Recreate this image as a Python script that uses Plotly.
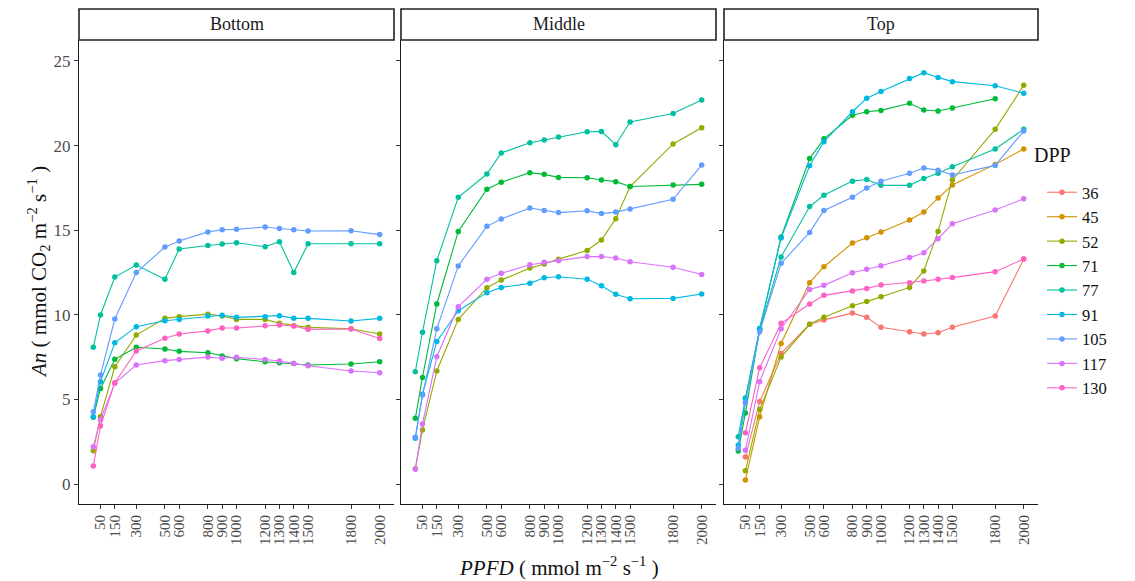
import plotly.graph_objects as go

# ---------------- data ----------------
PPFD = [0, 50, 150, 300, 500, 600, 800, 900, 1000, 1200, 1300, 1400, 1500, 1800, 2000]
TICKS = [50, 150, 300, 500, 600, 800, 900, 1000, 1200, 1300, 1400, 1500, 1800, 2000]
DPP = ["36", "45", "52", "71", "77", "91", "105", "117", "130"]
PANELS = ["Bottom", "Middle", "Top"]
COLORS = ["#F8766D", "#D39200", "#93AA00", "#00BA38", "#00C19F",
          "#00B9E3", "#619CFF", "#DB72FB", "#FF61C3"]

# Bottom layer
bottom_52 = [1.97, 3.98, 6.93, 8.8, 9.79, 9.89, 10.04, 9.93, 9.73, 9.73, 9.5, 9.36, 9.26, 9.18, 8.87]
bottom_71 = [3.95, 5.65, 7.37, 8.08, 7.98, 7.84, 7.76, 7.57, 7.41, 7.23, 7.17, 7.13, 7.03, 7.09, 7.23]
bottom_77 = [8.08, 9.99, 12.23, 12.94, 12.1, 13.89, 14.1, 14.18, 14.26, 14.02, 14.32, 12.5, 14.2, 14.2, 14.2]
bottom_91 = [3.98, 6.05, 8.35, 9.3, 9.65, 9.73, 9.93, 9.97, 9.85, 9.89, 9.95, 9.79, 9.79, 9.63, 9.79]
bottom_105 = [4.27, 6.44, 9.75, 12.5, 14.0, 14.36, 14.9, 15.03, 15.05, 15.19, 15.1, 15.03, 14.95, 14.97, 14.74]
bottom_117 = [2.2, 3.82, 5.95, 7.03, 7.29, 7.36, 7.5, 7.43, 7.49, 7.36, 7.27, 7.13, 6.99, 6.68, 6.58]
bottom_130 = [1.06, 3.43, 5.99, 7.86, 8.61, 8.87, 9.05, 9.22, 9.22, 9.36, 9.4, 9.34, 9.14, 9.16, 8.6]

# Middle layer
middle_52 = [0.9, 3.19, 6.68, 9.73, 11.6, 12.05, 12.76, 13.0, 13.29, 13.8, 14.42, 15.68, 17.58, 20.1, 21.06]
middle_71 = [3.88, 6.3, 10.64, 14.93, 17.42, 17.83, 18.4, 18.3, 18.12, 18.1, 17.97, 17.87, 17.58, 17.67, 17.71]
middle_77 = [6.64, 8.97, 13.2, 16.94, 18.32, 19.56, 20.17, 20.33, 20.51, 20.82, 20.84, 20.05, 21.39, 21.9, 22.7]
middle_91 = [2.7, 5.3, 8.43, 10.24, 11.31, 11.62, 11.86, 12.19, 12.25, 12.1, 11.72, 11.21, 10.95, 10.97, 11.23]
middle_105 = [2.76, 5.26, 9.18, 12.89, 15.23, 15.66, 16.31, 16.17, 16.04, 16.15, 15.98, 16.07, 16.25, 16.83, 18.85]
middle_117 = [0.87, 3.55, 7.52, 10.48, 12.1, 12.45, 12.96, 13.1, 13.2, 13.44, 13.44, 13.36, 13.14, 12.81, 12.38]

# Top layer
top_36 = [None, 1.6, 4.87, 7.72, 9.44, 9.7, 10.1, 9.85, 9.26, 9.0, 8.87, 8.94, 9.26, 9.93, 13.3]
top_45 = [None, 0.24, 3.98, 8.31, 11.9, 12.84, 14.24, 14.56, 14.89, 15.6, 16.07, 16.9, 17.67, 18.89, 19.8]
top_52 = [None, 0.78, 4.4, 7.5, 9.44, 9.85, 10.54, 10.78, 11.07, 11.62, 12.59, 14.93, 17.97, 20.96, 23.56]
top_71 = [1.95, 4.2, 9.15, 14.6, 19.23, 20.4, 21.79, 22.0, 22.08, 22.5, 22.1, 22.04, 22.22, 22.77, None]
top_77 = [2.8, 5.08, 9.1, 13.42, 16.4, 17.06, 17.9, 18.0, 17.65, 17.65, 18.06, 18.36, 18.75, 19.8, 20.96]
top_91 = [2.3, 5.02, 9.2, 14.54, 18.81, 20.23, 22.0, 22.8, 23.2, 23.96, 24.31, 24.03, 23.78, 23.54, 23.09]
top_105 = [2.1, 4.8, 9.0, 13.04, 14.87, 16.17, 16.94, 17.49, 17.89, 18.36, 18.67, 18.55, 18.26, 18.83, 20.86]
top_117 = [None, 2.0, 6.05, 9.18, 11.5, 11.74, 12.49, 12.69, 12.9, 13.38, 13.67, 14.5, 15.38, 16.2, 16.86]
top_130 = [None, 3.03, 6.87, 9.5, 10.64, 11.15, 11.4, 11.56, 11.76, 11.9, 12.0, 12.1, 12.2, 12.55, 13.3]

SERIES = {
    "Bottom": {"52": bottom_52, "71": bottom_71, "77": bottom_77, "91": bottom_91,
               "105": bottom_105, "117": bottom_117, "130": bottom_130},
    "Middle": {"52": middle_52, "71": middle_71, "77": middle_77, "91": middle_91,
               "105": middle_105, "117": middle_117},
    "Top": {"36": top_36, "45": top_45, "52": top_52, "71": top_71, "77": top_77,
            "91": top_91, "105": top_105, "117": top_117, "130": top_130},
}

# ---------------- layout geometry ----------------
W, H = 1135, 581
FONT = "Liberation Serif"
panel_px = [(79, 394), (401, 716), (724, 1038)]
y_top_px, y_bot_px = 40, 504
ydom = [1 - y_bot_px / H, 1 - y_top_px / H]

fig = go.Figure()

for pi, panel in enumerate(PANELS):
    axn = "" if pi == 0 else str(pi + 1)
    for di, d in enumerate(DPP):
        if d not in SERIES[panel]:
            continue
        fig.add_trace(go.Scatter(
            x=PPFD, y=SERIES[panel][d], mode="lines+markers",
            name=d, legendgroup=d, showlegend=(panel == "Top"),
            line=dict(color=COLORS[di], width=1.1),
            marker=dict(color=COLORS[di], size=5.5),
            xaxis="x" + axn, yaxis="y" + axn, connectgaps=False,
        ))

axis_common = dict(
    showline=True, linecolor="#1a1a1a", linewidth=1.1, mirror=False,
    ticks="outside", ticklen=4, tickcolor="#333333", tickwidth=1,
    showgrid=False, zeroline=False,
)

layout = dict(
    width=W, height=H, margin=dict(l=0, r=0, t=0, b=0),
    paper_bgcolor="white", plot_bgcolor="white",
    font=dict(family=FONT, color="#4D4D4D"),
    legend=dict(
        font=dict(size=16.5, color="#111111", family=FONT),
        x=1042 / W, y=1 - 175 / H, xanchor="left", yanchor="top",
        bgcolor="rgba(0,0,0,0)", itemwidth=30, tracegroupgap=0,
    ),
    showlegend=True,
)

for pi in range(3):
    x0, x1 = panel_px[pi]
    axn = "" if pi == 0 else str(pi + 1)
    layout["xaxis" + axn] = dict(
        domain=[x0 / W, x1 / W], range=[-100, 2100], anchor="y" + axn,
        tickmode="array", tickvals=TICKS, ticktext=[str(t) for t in TICKS],
        tickangle=-90, tickfont=dict(size=15, color="#4D4D4D", family=FONT),
        **axis_common,
    )
    layout["yaxis" + axn] = dict(
        domain=ydom, range=[-1.18, 26.24], anchor="x" + axn,
        tickmode="array", tickvals=[0, 5, 10, 15, 20, 25],
        showticklabels=(pi == 0),
        tickfont=dict(size=17, color="#4D4D4D", family=FONT),
        **axis_common,
    )

fig.update_layout(**layout)

# strips
for pi, panel in enumerate(PANELS):
    x0, x1 = panel_px[pi]
    fig.add_shape(type="rect", xref="paper", yref="paper",
                  x0=x0 / W, x1=x1 / W, y0=1 - 40 / H, y1=1 - 9 / H,
                  line=dict(color="#222222", width=1.6), fillcolor="white", layer="above")
    fig.add_annotation(text=panel, xref="paper", yref="paper",
                       x=(x0 + x1) / 2 / W, y=1 - 24.5 / H, showarrow=False,
                       xanchor="center", yanchor="middle",
                       font=dict(size=18, color="#1a1a1a", family=FONT))

# legend title
fig.add_annotation(text="DPP", xref="paper", yref="paper",
                   x=1032 / W, y=1 - 155 / H, showarrow=False,
                   xanchor="left", yanchor="middle",
                   font=dict(size=20, color="#111111", family=FONT))

# axis titles
fig.add_annotation(
    text="<i>PPFD</i> ( mmol m<sup>−2</sup> s<sup>−1</sup> )",
    xref="paper", yref="paper", x=558.5 / W, y=1 - 566 / H,
    showarrow=False, xanchor="center", yanchor="middle",
    font=dict(size=21, color="#111111", family=FONT))
fig.add_annotation(
    text="<i>An</i> ( mmol CO<sub>2</sub> m<sup>−2</sup> s<sup>−1</sup> )",
    xref="paper", yref="paper", x=38 / W, y=1 - 272 / H, textangle=-90,
    showarrow=False, xanchor="center", yanchor="middle",
    font=dict(size=21, color="#111111", family=FONT))

fig.write_html("out.html")
